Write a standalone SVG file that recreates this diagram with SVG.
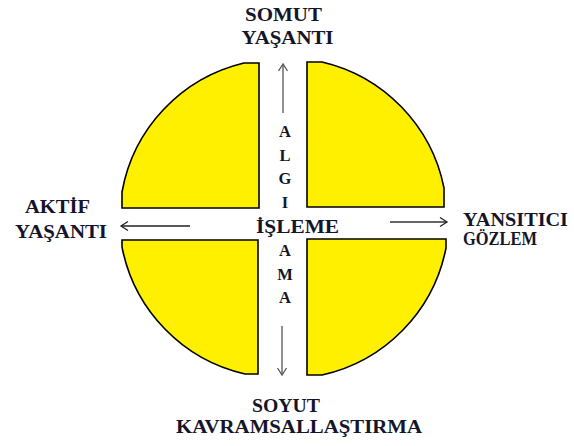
<svg xmlns="http://www.w3.org/2000/svg" width="574" height="446" viewBox="0 0 574 446">
<style>
.q{fill:#FFF000;stroke:#000;stroke-width:1.6;stroke-linejoin:miter}
.t{font-family:"Liberation Serif","Times New Roman",serif;font-weight:bold;font-size:18px;fill:#15152a}
.v{font-family:"Liberation Serif","Times New Roman",serif;font-weight:bold;font-size:16.5px;fill:#15152a;text-anchor:middle}
.c{text-anchor:middle}
.ar{fill:none;stroke-width:1.3}
</style>
<defs>
<marker id="hg" markerWidth="10" markerHeight="12" refX="8" refY="5" orient="auto" markerUnits="userSpaceOnUse" viewBox="0 0 10 10">
<path d="M1,0.5 L8,5 L1,9.5" fill="none" stroke="#555" stroke-width="1.3"/>
</marker>
<marker id="hk" markerWidth="10" markerHeight="12" refX="8" refY="5" orient="auto" markerUnits="userSpaceOnUse" viewBox="0 0 10 10">
<path d="M1,0.5 L8,5 L1,9.5" fill="none" stroke="#222" stroke-width="1.3"/>
</marker>
</defs>
<g id="quadrant-top-left"><path class="q" d="M259,208 L122,208 L122,192 A162 162 0 0 1 244,63 L259,63 Z"/></g>
<g id="quadrant-top-right"><path class="q" d="M307,207 L307,62 L322,62 A162 162 0 0 1 444,188 L444,207 Z"/></g>
<g id="quadrant-bottom-left"><path class="q" d="M258,240 L122,240 L122,247 A162 162 0 0 0 245,374 L258,374 Z"/></g>
<g id="quadrant-bottom-right"><path class="q" d="M307,239 L446,239 L446,248 A162 162 0 0 1 322,375 L307,375 Z"/></g>
<g id="connectors">
<line class="ar" x1="283" y1="113" x2="283" y2="64" stroke="#555" marker-end="url(#hg)"/>
<line class="ar" x1="282" y1="326" x2="282" y2="375" stroke="#555" marker-end="url(#hg)"/>
<line class="ar" x1="190" y1="226" x2="121" y2="226" stroke="#222" marker-end="url(#hk)"/>
<line class="ar" x1="390" y1="222" x2="447" y2="222" stroke="#333" stroke-width="1.8" marker-end="url(#hk)"/>
</g>
<g id="label-somut">
<text class="t c" x="283.5" y="21" textLength="77" lengthAdjust="spacingAndGlyphs">SOMUT</text>
<text class="t c" x="287.5" y="44" textLength="92" lengthAdjust="spacingAndGlyphs">YAŞANTI</text>
</g>
<g id="label-aktif">
<text class="t c" x="57.5" y="213" textLength="65" lengthAdjust="spacingAndGlyphs">AKTİF</text>
<text class="t c" x="61" y="238" textLength="92" lengthAdjust="spacingAndGlyphs">YAŞANTI</text>
</g>
<g id="label-yansitici">
<text class="t" x="463" y="226" textLength="105" lengthAdjust="spacingAndGlyphs">YANSITICI</text>
<text class="t" x="463" y="245" textLength="74" lengthAdjust="spacingAndGlyphs">GÖZLEM</text>
</g>
<g id="label-soyut">
<text class="t c" x="286" y="412" textLength="68" lengthAdjust="spacingAndGlyphs">SOYUT</text>
<text class="t c" x="299" y="433" textLength="246" lengthAdjust="spacingAndGlyphs">KAVRAMSALLAŞTIRMA</text>
</g>
<g id="label-algilama">
<text class="v" x="285" y="137">A</text>
<text class="v" x="285" y="161">L</text>
<text class="v" x="285" y="184">G</text>
<text class="v" x="285" y="208">I</text>
<text class="v" x="285" y="256">A</text>
<text class="v" x="285" y="280">M</text>
<text class="v" x="285" y="303">A</text>
</g>
<g id="label-isleme">
<text class="t c" x="297.5" y="233" textLength="83" lengthAdjust="spacingAndGlyphs">İŞLEME</text>
</g>
</svg>
